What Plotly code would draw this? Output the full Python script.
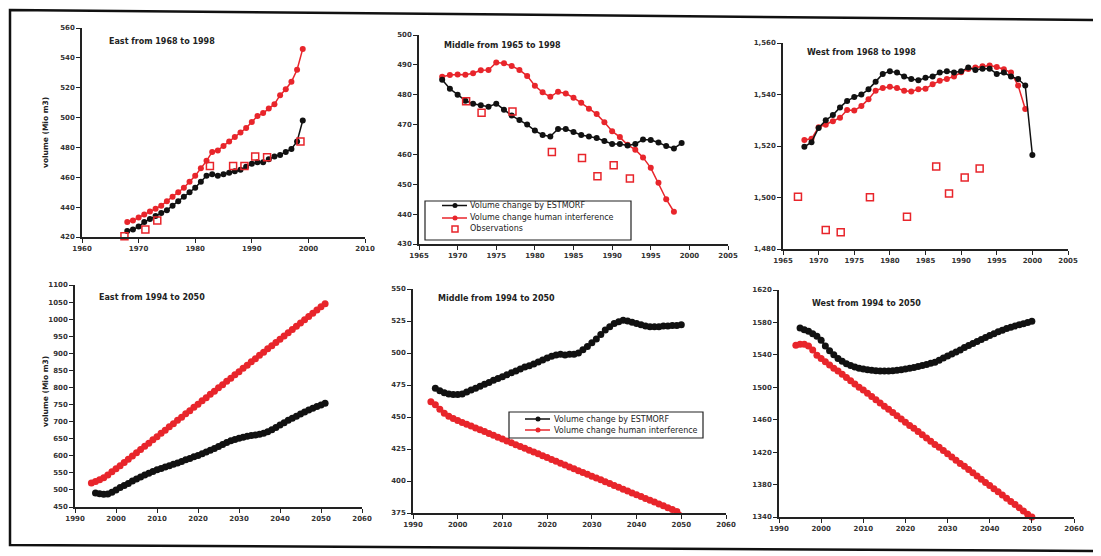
import plotly.graph_objects as go

# the page body adds an 8px margin, so the figure is sized to sit inside the window
OFF = 8
W, H = 1101 - OFF, 556 - OFF
RED = "#e8252b"
BLK = "#111111"
FONT = "DejaVu Sans, Arial, sans-serif"

# ---------------- data ----------------
# East 1968-1998
east_hist_model_years = list(range(1968, 2000))
east_hist_model = [424, 425, 427, 430, 432, 434, 436, 438, 441, 444, 447, 450, 453, 457, 461, 462,
                   461, 462, 463, 464, 465, 467, 469, 470, 470, 472, 474, 475, 477, 479, 484, 498]
east_hist_human_years = list(range(1968, 2000))
east_hist_human = [430, 431, 433, 435, 437, 439, 441, 444, 447, 450, 453, 457, 461, 466, 471, 477,
                   478, 481, 484, 487, 490, 493, 497, 501, 503, 506, 509, 515, 519, 524, 532, 546]
east_obs_years = [1967.5, 1971.2, 1973.3, 1982.6, 1986.7, 1988.7, 1990.6, 1992.7, 1998.6]
east_obs = [420.5, 425, 431, 467.5, 467.5, 467.5, 474, 473.5, 484]

# Middle 1965-1998
mid_hist_model_years = list(range(1968, 2000))
mid_hist_model = [485, 482, 480, 478, 477, 476.5, 476, 477, 475, 473, 471.5, 470, 468, 466.5, 466, 468.5,
                  468.5, 467.5, 466.5, 466, 465.5, 464.5, 463.5, 463.5, 463, 463.5, 465, 464.8, 464, 462.8, 462, 463.8]
mid_hist_human_years = list(range(1968, 1999))
mid_hist_human = [486, 486.6, 486.8, 486.7, 487.2, 488.2, 488.3, 490.8, 490.5, 489.6, 488.3, 486.3, 483, 480.8,
                  479.3, 481, 480.4, 479, 477.3, 475.3, 473.5, 470.8, 467.8, 465.8, 463.2, 461.6, 459, 455.5,
                  450.5, 445, 440.8]
mid_obs_years = [1971.1, 1973.1, 1977.1, 1982.2, 1986.1, 1988.1, 1990.2, 1992.3]
mid_obs = [477.8, 474, 474.4, 460.8, 458.8, 452.7, 456.4, 451.9]

# West 1968-1998
west_hist_model_years = list(range(1968, 2001))
west_hist_model = [1519.7, 1521.5, 1527, 1530, 1532, 1535, 1537.5, 1539, 1540, 1542, 1545, 1548, 1549,
                   1548.5, 1547, 1546, 1545.5, 1546.5, 1547, 1548.5, 1549, 1548.5, 1549, 1550.5, 1549.5,
                   1550, 1550, 1548, 1548.5, 1547, 1546, 1543.5, 1516.5]
west_hist_human_years = list(range(1968, 2000))
west_hist_human = [1522.3, 1522.8, 1527.3, 1528.3, 1529.6, 1531, 1534, 1533.8, 1535.5, 1538.2, 1541.5,
                   1542.5, 1543, 1542.5, 1541.5, 1541.2, 1542, 1542.2, 1544, 1545.3, 1546, 1547, 1548.6,
                   1549.9, 1550.5, 1551, 1551.3, 1550.7, 1549.8, 1548.5, 1543.5, 1534.4]
west_obs_years = [1967.1, 1971.0, 1973.1, 1977.2, 1982.4, 1986.5, 1988.3, 1990.5, 1992.6]
west_obs = [1500.3, 1487.4, 1486.5, 1500.1, 1492.5, 1512, 1501.6, 1507.8, 1511.3]

# East 1994-2050
east_fut_model_years = list(range(1995, 2052))
east_fut_model = [491, 488.5, 487.5, 488, 493,
                  500, 507, 513, 519, 526, 532, 538, 544, 549, 554,
                  559, 563, 567, 571, 575, 579, 583, 588, 592, 597,
                  601, 606, 611, 616, 621, 627, 633, 639, 644, 648,
                  651, 654, 657, 659, 661, 663, 666, 670, 676, 683,
                  690, 697, 704, 710, 716, 722, 728, 734, 739, 744,
                  749, 754]
east_fut_human_years = list(range(1994, 2052))
east_fut_human = [520, 525, 530, 536, 544, 553,
                  562, 571, 580, 590, 599, 609, 618, 628, 637, 647,
                  656, 666, 675, 685, 694, 704, 713, 723, 732, 742,
                  751, 761, 770, 780, 789, 799, 808, 818, 827, 837,
                  846, 856, 865, 875, 884, 894, 903, 913, 922, 932,
                  941, 951, 960, 970, 979, 989, 998, 1008, 1017, 1027,
                  1036, 1045]

# Middle 1994-2050
mid_fut_model_years = list(range(1995, 2051))
mid_fut_model = [472.5, 470.5, 469, 468, 467.5,
                 467.5, 468, 469.5, 471, 472.5, 474, 475.5, 477, 478.8, 480,
                 481.5, 483, 484.5, 486, 487.5, 489, 490, 491.5, 493, 494.5,
                 496, 497.5, 498.5, 499, 498.5, 499, 499, 500, 502.5, 505,
                 508, 511, 514.5, 518, 520.5, 523, 524.5, 525.5, 525, 524,
                 523, 522, 521, 520.5, 520.5, 520.5, 521, 521, 521.5, 521.5,
                 522]
mid_fut_human_years = list(range(1994, 2051))
mid_fut_human = [462, 459.5, 456, 453, 450.5, 448.8,
                 447.3, 445.8, 444.4, 443, 441.5, 440, 438.6, 437.1, 435.7, 434.2,
                 432.8, 431.3, 429.9, 428.4, 427, 425.5, 424.1, 422.6, 421.2, 419.7,
                 418.3, 416.8, 415.4, 413.9, 412.5, 411, 409.6, 408.1, 406.7, 405.2,
                 403.8, 402.3, 400.9, 399.4, 398, 396.5, 395.1, 393.6, 392.2, 390.7,
                 389.3, 387.8, 386.4, 384.9, 383.5, 382, 380.6, 379.1, 377.7, 376.2,
                 374.8]

# West 1994-2050
west_fut_model_years = list(range(1995, 2051))
west_fut_model = [1573, 1571, 1569, 1566, 1563,
                  1558, 1551, 1545, 1540, 1535.5, 1532, 1529, 1527, 1525, 1523.5,
                  1522.5, 1521.5, 1521, 1520.5, 1520, 1520, 1520, 1520.5, 1521, 1521.5,
                  1522.5, 1523.5, 1524.5, 1525.5, 1527, 1528, 1529.5, 1531, 1533.5, 1536,
                  1538.5, 1541, 1543.5, 1546, 1549, 1551.5, 1554, 1556.5, 1559, 1561.5,
                  1564, 1566, 1568.5, 1570.5, 1572.5, 1574, 1575.5, 1577, 1578.5, 1580,
                  1581.5]
west_fut_human_years = list(range(1994, 2051))
west_fut_human = [1552, 1553, 1553, 1551, 1546, 1539.5,
                  1535.5, 1531.5, 1527.5, 1523.5, 1520, 1516, 1512, 1508, 1504, 1500,
                  1496.5, 1492.5, 1488.5, 1484.5, 1480.5, 1476.5, 1473, 1469, 1465, 1461,
                  1457, 1453, 1449.5, 1445.5, 1441.5, 1437.5, 1433.5, 1429.5, 1426, 1422,
                  1418, 1414, 1410, 1406, 1402.5, 1398.5, 1394.5, 1390.5, 1386.5, 1382.5,
                  1379, 1375, 1371, 1367, 1363, 1359, 1355.5, 1351.5, 1347.5, 1343.5,
                  1340]

panel_titles = ["East from 1968 to 1998", "Middle from 1965 to 1998", "West from 1968 to 1998",
                "East from 1994 to 2050", "Middle from 1994 to 2050", "West from 1994 to 2050"]
legend_labels = ["Volume change by ESTMORF", "Volume change human interference", "Observations"]


# window pixel -> paper fraction
def px(x):
    return (x - OFF) / W


def py(y):
    return 1 - (y - OFF) / H


fig = go.Figure()

# panel boxes in window pixels: (left, right, top, bottom), x range, y range, ticks
panels = [
    ((82, 365, 28, 237), [1960, 2010], [420, 560], 10, 20, ""),
    ((419, 728, 35, 244), [1965, 2005], [430, 500], 5, 10, ""),
    ((783, 1068, 43, 249), [1965, 2005], [1480, 1560], 5, 20, ","),
    ((75, 362, 285, 507), [1990, 2060], [450, 1100], 10, 50, ""),
    ((413, 726, 289, 513), [1990, 2060], [375, 550], 10, 25, ""),
    ((779, 1074, 290, 517), [1990, 2060], [1340, 1620], 10, 40, ""),
]

layout = dict(width=W, height=H, autosize=False,
              margin=dict(l=0, r=0, t=0, b=0, pad=0, autoexpand=False),
              paper_bgcolor="white", plot_bgcolor="white", showlegend=False,
              font=dict(family=FONT, color="#222"))

for i, (box, xr, yr, dx, dy, fmt) in enumerate(panels):
    n = "" if i == 0 else str(i + 1)
    l, r, t, b = box
    tickfont = dict(size=7, family=FONT, color="#333", weight="bold")
    layout["xaxis" + n] = dict(domain=[px(l), px(r)], range=xr, tick0=xr[0], dtick=dx,
                               showgrid=False, zeroline=False, showline=True, linecolor="#222",
                               linewidth=1.5, ticks="outside", ticklen=4, tickcolor="#222",
                               tickfont=tickfont, anchor="y" + n, fixedrange=True, automargin=False)
    layout["yaxis" + n] = dict(domain=[py(b), py(t)], range=yr, tick0=yr[0], dtick=dy,
                               tickformat=fmt, showgrid=False, zeroline=False, showline=True,
                               linecolor="#222", linewidth=1.5, ticks="outside", ticklen=4,
                               tickcolor="#222", tickfont=tickfont, anchor="x" + n, fixedrange=True,
                               automargin=False)

fig.update_layout(**layout)


def add_series(i, xs, ys, color, msize, lw):
    n = "" if i == 0 else str(i + 1)
    fig.add_trace(go.Scatter(x=xs, y=ys, mode="lines+markers", xaxis="x" + n, yaxis="y" + n,
                             line=dict(color=color, width=lw),
                             marker=dict(color=color, size=msize, symbol="circle"),
                             cliponaxis=False))


def add_obs(i, xs, ys):
    n = "" if i == 0 else str(i + 1)
    fig.add_trace(go.Scatter(x=xs, y=ys, mode="markers", xaxis="x" + n, yaxis="y" + n,
                             marker=dict(color=RED, size=7, symbol="square-open", line=dict(width=1.5)),
                             cliponaxis=False))


add_series(0, east_hist_human_years, east_hist_human, RED, 6, 1.5)
add_series(0, east_hist_model_years, east_hist_model, BLK, 6, 1.5)
add_obs(0, east_obs_years, east_obs)

add_series(1, mid_hist_human_years, mid_hist_human, RED, 6, 1.5)
add_series(1, mid_hist_model_years, mid_hist_model, BLK, 6, 1.5)
add_obs(1, mid_obs_years, mid_obs)

add_series(2, west_hist_human_years, west_hist_human, RED, 6, 1.5)
add_series(2, west_hist_model_years, west_hist_model, BLK, 6, 1.5)
add_obs(2, west_obs_years, west_obs)

add_series(3, east_fut_human_years, east_fut_human, RED, 7, 2)
add_series(3, east_fut_model_years, east_fut_model, BLK, 7, 2)

add_series(4, mid_fut_model_years, mid_fut_model, BLK, 7, 2)
add_series(4, mid_fut_human_years, mid_fut_human, RED, 7, 2)

add_series(5, west_fut_human_years, west_fut_human, RED, 7, 2)
add_series(5, west_fut_model_years, west_fut_model, BLK, 7, 2)

# panel titles
title_pos = [(107, 42), (442, 45), (805, 53), (97, 297), (436, 298), (810, 303)]
for txt, (x, y) in zip(panel_titles, title_pos):
    fig.add_annotation(x=px(x), y=py(y), xref="paper", yref="paper", text=txt, showarrow=False,
                       xanchor="left", yanchor="middle",
                       font=dict(size=8, family=FONT, color="#222", weight="bold"))

# y axis titles (left column only)
for y in (133, 392):
    fig.add_annotation(x=px(45), y=py(y), xref="paper", yref="paper", text="volume (Mio m3)",
                       showarrow=False, textangle=-90, xanchor="center", yanchor="middle",
                       font=dict(size=7.5, family=FONT, color="#222", weight="bold"))

shapes = []


def legend_box(x0, y0, x1, y1, rows, kx0, kx1, kx, tx, entries):
    shapes.append(dict(type="rect", xref="paper", yref="paper", x0=px(x0), x1=px(x1),
                       y0=py(y1), y1=py(y0), line=dict(color="#222", width=1.2),
                       fillcolor="white", layer="above"))
    for (label, kind, color), ry in zip(entries, rows):
        if kind == "line":
            shapes.append(dict(type="line", xref="paper", yref="paper", x0=px(kx0), x1=px(kx1),
                               y0=py(ry), y1=py(ry), line=dict(color=color, width=1.5)))
            shapes.append(dict(type="circle", xref="paper", yref="paper", x0=px(kx - 2.5),
                               x1=px(kx + 2.5), y0=py(ry + 2.5), y1=py(ry - 2.5),
                               fillcolor=color, line=dict(color=color, width=0)))
        else:
            shapes.append(dict(type="rect", xref="paper", yref="paper", x0=px(kx - 3),
                               x1=px(kx + 3), y0=py(ry + 3), y1=py(ry - 3),
                               line=dict(color=color, width=1.5)))
        fig.add_annotation(x=px(tx), y=py(ry), xref="paper", yref="paper", text=label,
                           showarrow=False, xanchor="left", yanchor="middle",
                           font=dict(size=8, family=FONT, color="#222"))


legend_box(425, 201, 631, 240, [205.5, 218, 229], 442, 467, 455, 468,
           [(legend_labels[0], "line", BLK), (legend_labels[1], "line", RED),
            (legend_labels[2], "square", RED)])
legend_box(509, 412, 703, 438, [419, 430], 525, 550, 538, 552,
           [(legend_labels[0], "line", BLK), (legend_labels[1], "line", RED)])

# outer frame of the scanned figure
shapes.append(dict(type="path", xref="paper", yref="paper",
                   path="M {} {} L {} {} L {} {} L {} {} Z".format(
                       px(10), py(10), px(1097), py(20), px(1096), py(551), px(10), py(545)),
                   line=dict(color="#111", width=2.5)))

fig.update_layout(shapes=shapes)
fig.write_html("out.html")
